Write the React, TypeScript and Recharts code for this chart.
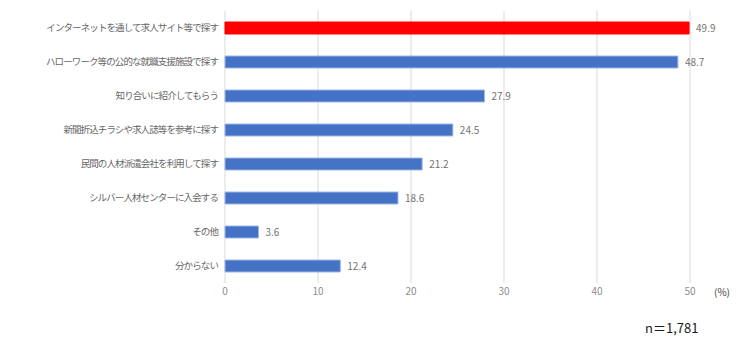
import React from "react"
import { BarChart, Bar, XAxis, YAxis, CartesianGrid, LabelList, Cell } from "recharts"

const categories = [
  "インターネットを通して求人サイト等で探す",
  "ハローワーク等の公的な就職支援施設で探す",
  "知り合いに紹介してもらう",
  "新聞折込チラシや求人誌等を参考に探す",
  "民間の人材派遣会社を利用して探す",
  "シルバー人材センターに入会する",
  "その他",
  "分からない",
]

const values = [49.9, 48.7, 27.9, 24.5, 21.2, 18.6, 3.6, 12.4]

const xTicks = [0, 10, 20, 30, 40, 50]

const data = categories.map((name, i) => ({ name, value: values[i] }))

const font = "'Noto Sans CJK JP', 'Noto Sans', sans-serif"

export default function App() {
  return (
    <div style={{ position: "absolute", left: 0, top: 0, width: 740, height: 355, background: "#fff", fontFamily: font }}>
      <BarChart
        width={740}
        height={355}
        data={data}
        layout="vertical"
        margin={{ top: 11, right: 50, left: 0, bottom: 52 }}
        barCategoryGap={0}
      >
        <CartesianGrid horizontal={false} stroke="#d9d9d9" />
        <XAxis
          type="number"
          domain={[0, 50]}
          ticks={xTicks}
          axisLine={false}
          tickLine={false}
          tickSize={0}
          tickMargin={5}
          height={20}
          tick={{ fontSize: 10, fill: "#8c8c8c", fontFamily: font }}
        />
        <YAxis
          type="category"
          dataKey="name"
          width={225}
          axisLine={false}
          tickLine={false}
          tickSize={0}
          tickMargin={7}
          interval={0}
          tick={{ fontSize: 9.5, fill: "#666666", fontFamily: font, fontFeatureSettings: "'palt'", letterSpacing: -0.9 } as any}
        />
        <Bar dataKey="value" barSize={12} isAnimationActive={false}>
          {data.map((d, i) => (
            <Cell key={d.name} fill={i === 0 ? "#ff0000" : "#4472c4"} stroke={i === 0 ? "#ff0000" : "#9db6e3"} strokeWidth={1} />
          ))}
          <LabelList
            dataKey="value"
            position="right"
            offset={7}
            formatter={(v: number) => v.toFixed(1)}
            style={{ fontSize: 10, fill: "#737373", fontFamily: font }}
          />
        </Bar>
      </BarChart>
      <div style={{ position: "absolute", left: 714, top: 284, fontSize: 10, color: "#404040" }}>(%)</div>
      <div style={{ position: "absolute", left: 645, top: 318, fontSize: 13, color: "#1a1a1a" }}>n＝1,781</div>
    </div>
  )
}
